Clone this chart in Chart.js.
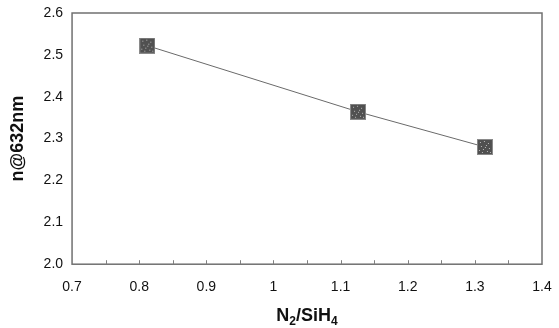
<!DOCTYPE html>
<html>
<head>
<meta charset="utf-8">
<script src="https://cdn.jsdelivr.net/npm/chart.js@4"></script>
<style>
  html, body { margin: 0; padding: 0; background: #fff; }
  #wrap { width: 559px; height: 328px; }
</style>
</head>
<body>
<div id="wrap"><canvas id="chart" width="559" height="328"></canvas></div>
<script>
// values
const ratioN2SiH4 = [0.812, 1.126, 1.315];
const refractiveIndex = [2.522, 2.364, 2.280];
const xTickLabels = ['0.7', '0.8', '0.9', '1', '1.1', '1.2', '1.3', '1.4'];
const yTickLabels = ['2.0', '2.1', '2.2', '2.3', '2.4', '2.5', '2.6'];
// x title pieces: [text, subscript?]
const xTitleParts = [['N', false], ['2', true], ['/SiH', false], ['4', true]];

// speckled square marker
function makeMarker() {
    const c = document.createElement('canvas');
    c.width = 16; c.height = 16;
    const g = c.getContext('2d');
    g.fillStyle = '#8a8a8a';
    g.fillRect(0, 0, 16, 16);
    g.fillStyle = '#505050';
    g.fillRect(1, 1, 14, 14);
    g.fillStyle = '#b8b8b8';
    const dots = [[3,3],[7,2],[11,4],[4,7],[9,6],[12,9],[2,11],[6,10],[10,12],[5,13],[13,13],[8,8]];
    dots.forEach(([x, y]) => g.fillRect(x, y, 1, 1));
    return c;
}

const frameAndTicks = {
    id: 'frameAndTicks',
    afterDraw(chart) {
        const { ctx, chartArea: a, scales } = chart;
        ctx.save();
        ctx.strokeStyle = '#707070';
        ctx.lineWidth = 1.5;
        ctx.strokeRect(a.left, a.top, a.right - a.left, a.bottom - a.top);
        ctx.lineWidth = 1;
        ctx.strokeStyle = '#808080';
        for (let v = 0.75; v < 1.4; v += 0.05) {
            const px = Math.round(scales.x.getPixelForValue(v)) + 0.5;
            ctx.beginPath();
            ctx.moveTo(px, a.bottom);
            ctx.lineTo(px, a.bottom - 4);
            ctx.stroke();
        }

        // x axis title with real subscripts
        const big = 'bold 18px "Liberation Sans"';
        const small = 'bold 12px "Liberation Sans"';
        let w = 0;
        xTitleParts.forEach(([t, sub]) => { ctx.font = sub ? small : big; w += ctx.measureText(t).width; });
        let x = (a.left + a.right) / 2 - w / 2;
        const base = 321;
        ctx.fillStyle = '#111';
        ctx.textBaseline = 'alphabetic';
        ctx.textAlign = 'left';
        xTitleParts.forEach(([t, sub]) => {
            ctx.font = sub ? small : big;
            ctx.fillText(t, x, sub ? base + 4 : base);
            x += ctx.measureText(t).width;
        });
        ctx.restore();
    }
};

new Chart(document.getElementById('chart'), {
    type: 'scatter',
    data: {
        datasets: [{
            data: ratioN2SiH4.map((x, i) => ({ x: x, y: refractiveIndex[i] })),
            showLine: true,
            borderColor: '#6a6a6a',
            borderWidth: 1,
            pointStyle: makeMarker(),
            pointRadius: 8,
            pointHoverRadius: 8
        }]
    },
    options: {
        responsive: false,
        animation: false,
        layout: { padding: { left: 7, right: 17, top: 13, bottom: 17 } },
        plugins: { legend: { display: false }, tooltip: { enabled: false } },
        scales: {
            x: {
                type: 'linear',
                min: 0.7, max: 1.4,
                grid: { drawOnChartArea: false, drawTicks: false },
                border: { display: false },
                afterFit: (s) => { s.paddingRight = 0; s.paddingLeft = 0; },
                ticks: {
                    stepSize: 0.1,
                    padding: 15,
                    color: '#111',
                    font: { family: 'Liberation Sans', size: 14 },
                    callback: (v, i) => xTickLabels[i]
                },
                title: { display: false }
            },
            y: {
                min: 2.0, max: 2.6,
                grid: { drawOnChartArea: false, drawTicks: false },
                border: { display: false },
                afterFit: (s) => { s.paddingTop = 0; s.paddingBottom = 0; },
                ticks: {
                    stepSize: 0.1,
                    padding: 9,
                    color: '#111',
                    font: { family: 'Liberation Sans', size: 14 },
                    callback: (v, i) => yTickLabels[i]
                },
                title: {
                    display: true,
                    text: 'n@632nm',
                    color: '#111',
                    font: { family: 'Liberation Sans', size: 18, weight: 'bold' },
                    padding: { top: 0, bottom: 6 }
                }
            }
        }
    },
    plugins: [frameAndTicks]
});
</script>
</body>
</html>
